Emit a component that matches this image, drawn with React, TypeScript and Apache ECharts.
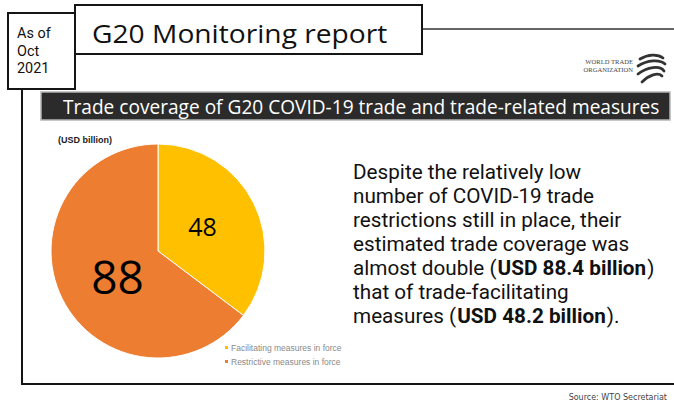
import React, { useEffect, useRef } from "react";
import * as echarts from "echarts";

const categories = ["Facilitating measures in force", "Restrictive measures in force"];
const values = [48.2, 88.4];
const colors = ["#FFC000", "#ED7D31"];
const labelSizes = [25, 46];
const labelOffsets = [[-6, 0], [10, 0]];
const headerLines = ["As of", "Oct", "2021"];
const reportTitle = "G20 Monitoring report";
const chartTitle = "Trade coverage of G20 COVID-19 trade and trade-related measures";
const unitLabel = "(USD billion)";
const sourceText = "Source: WTO Secretariat";
const wtoLines = ["WORLD TRADE", "ORGANIZATION"];
const bodyLines: { t: string; b?: boolean }[][] = [
  [{ t: "Despite the relatively low" }],
  [{ t: "number of COVID-19 trade" }],
  [{ t: "restrictions still in place, their" }],
  [{ t: "estimated trade coverage was" }],
  [{ t: "almost double (" }, { t: "USD 88.4 billion", b: true }, { t: ")" }],
  [{ t: "that of trade-facilitating" }],
  [{ t: "measures (" }, { t: "USD 48.2 billion", b: true }, { t: ")." }],
];

const FONT = "'Open Sans', 'Noto Sans', sans-serif";
const BODY_FONT = "Roboto, 'Open Sans', sans-serif";
const BODY_SCALE = 1.035;

echarts.graphic.registerShape(
  "wtoSwoosh",
  echarts.graphic.extendPath(
    "M3 6 C 11 1, 21 1, 26 5 M1 13 C 10 7, 23 6, 28 11 M1 21 C 10 14, 23 12, 27 18 M5 29 C 12 22, 21 19, 25 23",
    {}
  )
);

let measureCtx: CanvasRenderingContext2D | null = null;
function measure(text: string, font: string): number {
  if (!measureCtx) measureCtx = document.createElement("canvas").getContext("2d");
  measureCtx!.font = font;
  return measureCtx!.measureText(text).width;
}

export default function App() {
  const ref = useRef<HTMLDivElement>(null);
  useEffect(() => {
    document.body.style.margin = "0";
    const chart = echarts.init(ref.current!, null, { renderer: "svg" });
    const stroke = "#151515";
    const serif = "'Liberation Serif', serif";
    const graphics: any[] = [
      // frame lines
      { type: "line", shape: { x1: 22, y1: 88, x2: 22, y2: 384 }, style: { stroke, lineWidth: 2 } },
      { type: "line", shape: { x1: 21, y1: 384, x2: 674, y2: 384 }, style: { stroke, lineWidth: 2 } },
      { type: "line", shape: { x1: 422, y1: 29, x2: 674, y2: 29 }, style: { stroke: "#333", lineWidth: 1.5 } },
      // left box
      { type: "rect", shape: { x: 8, y: 13, width: 67, height: 76 }, style: { fill: "#fff", stroke, lineWidth: 2 } },
      // title box
      { type: "rect", shape: { x: 75, y: 5, width: 347, height: 49 }, style: { fill: "#fff", stroke, lineWidth: 2 } },
      {
        type: "text", x: 92, y: 32.5, scaleX: 1.084,
        style: { text: reportTitle, fill: "#111", font: `26px ${FONT}`, verticalAlign: "middle", align: "left" },
      },
      // banner
      { type: "rect", shape: { x: 41, y: 92, width: 629, height: 28 }, style: { fill: "#2b2b2b", stroke: "#b5b5b5", lineWidth: 1.5 } },
      {
        type: "text", x: 63, y: 106, scaleX: 0.955,
        style: { text: chartTitle, fill: "#fff", font: `20px ${FONT}`, verticalAlign: "middle", align: "left" },
      },
      {
        type: "wtoSwoosh", x: 637, y: 53, scaleX: 1, scaleY: 1,
        style: { fill: "none", stroke: "#333", lineWidth: 2.8, lineCap: "round" },
      },
      // unit label
      {
        type: "text", x: 58, y: 140,
        style: { text: unitLabel, fill: "#222", font: "bold 9px 'Liberation Sans', Arial, sans-serif", verticalAlign: "middle", align: "left" },
      },
      // source
      {
        type: "text", x: 667, y: 397,
        style: { text: sourceText, fill: "#444", font: "8px 'DejaVu Sans', sans-serif", verticalAlign: "middle", align: "right" },
      },
    ];
    const wtoY = [61.5, 69.5];
    wtoLines.forEach((t, i) => {
      graphics.push({
        type: "text", x: 633, y: wtoY[i],
        style: { text: t, fill: "#444", font: `6.6px ${serif}`, verticalAlign: "middle", align: "right" },
      });
    });
    const headerY = [33, 51.3, 68.3];
    headerLines.forEach((t, i) => {
      graphics.push({
        type: "text", x: 17, y: headerY[i], scaleX: 1.03,
        style: { text: t, fill: "#111", font: `14px ${BODY_FONT}`, verticalAlign: "middle", align: "left" },
      });
    });
    bodyLines.forEach((segs, i) => {
      let x = 353;
      segs.forEach((s) => {
        const font = `${s.b ? "bold " : ""}20px ${BODY_FONT}`;
        graphics.push({
          type: "text", x, y: 172.2 + i * 24, scaleX: BODY_SCALE,
          style: { text: s.t, fill: "#111", font, verticalAlign: "middle", align: "left" },
        });
        x += measure(s.t, font) * BODY_SCALE + 1;
      });
    });

    chart.setOption({
      animation: false,
      backgroundColor: "#fff",
      graphic: { elements: graphics },
      legend: {
        orient: "vertical",
        left: 218,
        top: 338,
        icon: "rect",
        itemWidth: 5,
        itemHeight: 5,
        itemGap: 5,
        selectedMode: false,
        data: categories,
        textStyle: { fontSize: 8.5, color: "#8a8a8a", fontFamily: "'Liberation Sans', Arial, sans-serif", padding: [0, 0, 0, -3] },
      },
      series: [
        {
          type: "pie",
          center: [158, 251],
          radius: 107,
          startAngle: 90,
          clockwise: true,
          silent: true,
          itemStyle: { borderColor: "#fff", borderWidth: 1 },
          label: {
            show: true,
            position: "inside",
            color: "#000",
            fontFamily: "'Open Sans', sans-serif",
            formatter: (p: any) => String(Math.round(p.value)),
          },
          labelLine: { show: false },
          data: categories.map((name, i) => ({
            name,
            value: values[i],
            itemStyle: { color: colors[i] },
            label: { fontSize: labelSizes[i], offset: labelOffsets[i] },
          })),
        },
      ],
    });
    return () => chart.dispose();
  }, []);
  return <div ref={ref} style={{ width: 674, height: 404 }} />;
}
